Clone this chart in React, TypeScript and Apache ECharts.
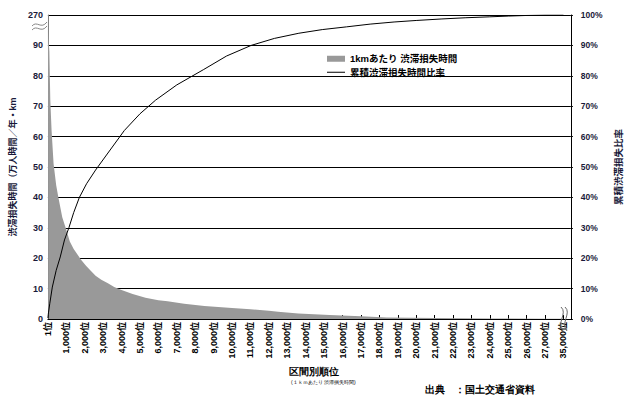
import React, { useEffect, useRef } from 'react';
import * as echarts from 'echarts';

// 1km あたり渋滞損失時間（万人時間／年・km） by section rank
const lossRanks = [1, 5, 15, 30, 50, 80, 130, 200, 310, 450, 570, 780, 1040, 1190, 1400, 1550, 1800, 2070, 2300, 2590, 2900, 3260, 3600, 4000, 4600, 5300, 6000, 6500, 7400, 8500, 10000, 11000, 12000, 12500, 13600, 15300, 17000, 18400, 21000, 24000, 27000, 35000];
const lossValues = [270, 230, 180, 130, 100, 88, 72, 62, 51, 44, 40, 33.5, 28.5, 25.5, 23, 21.7, 19.5, 17.5, 16, 14.2, 12.9, 11.8, 10.5, 9.5, 8.2, 7.0, 6.2, 5.8, 5.0, 4.3, 3.6, 3.2, 2.7, 2.4, 1.8, 1.3, 0.9, 0.5, 0.3, 0.2, 0.1, 0.05];

// 累積渋滞損失時間比率 (%)
const cumRanks = [1, 30, 100, 240, 450, 670, 900, 1140, 1400, 1710, 2100, 2590, 3260, 4150, 5000, 5850, 7000, 8440, 9700, 11040, 12300, 13630, 14900, 16220, 17500, 18800, 20000, 21400, 22700, 24000, 25000, 26000, 27000, 35000];
const cumValues = [0.3, 2, 5, 10.5, 16, 20.4, 26, 30, 35, 40, 44.5, 49, 54.6, 62, 67.5, 72, 77, 82, 86.5, 90, 92.3, 94, 95.2, 96.1, 97, 97.7, 98.2, 98.7, 99.1, 99.4, 99.65, 99.85, 100, 100];

const xTickLabels = ['1位', '1,000位', '2,000位', '3,000位', '4,000位', '5,000位', '6,000位', '7,000位', '8,000位', '9,000位', '10,000位', '11,000位', '12,000位', '13,000位', '14,000位', '15,000位', '16,000位', '17,000位', '18,000位', '19,000位', '20,000位', '21,000位', '22,000位', '23,000位', '24,000位', '25,000位', '26,000位', '27,000位', '35,000位'];
const yLeftLabels = ['0', '10', '20', '30', '40', '50', '60', '70', '80', '90', '270'];
const yRightLabels = ['0%', '10%', '20%', '30%', '40%', '50%', '60%', '70%', '80%', '90%', '100%'];

const LOSS_NAME = '1kmあたり 渋滞損失時間';
const CUM_NAME = '累積渋滞損失時間比率';

// broken axes: x compresses 27,000..35,000 into one step, y compresses 90..270 into one step
const dispX = (r: number) => (r <= 27000 ? r : 27000 + (r - 27000) / 8);
const dispY = (v: number) => (v <= 90 ? v : 90 + (v - 90) / 18);

const FONT = 'Arial, "Liberation Sans", "Noto Sans CJK JP", sans-serif';
const LINE_ICON = 'path://M0,0 L0.01,0 L0,0.01 Z M0,2.4 L18,2.4 L18,3.4 L0,3.4 Z M0,6 L0.01,6 L0,5.99 Z';

export default function App() {
  const ref = useRef<HTMLDivElement>(null);
  useEffect(() => {
    if (!ref.current) return;
    const chart = echarts.init(ref.current, undefined, { renderer: 'svg' });
    const lossData = lossRanks.map((r, i) => [dispX(r) - 1, dispY(lossValues[i])]);
    const cumData = cumRanks.map((r, i) => [dispX(r) - 1, cumValues[i]]);
    chart.setOption({
      animation: false,
      textStyle: { fontFamily: FONT },
      grid: { left: 37, right: 46, top: 15, bottom: 78, containLabel: false },
      legend: {
        orient: 'vertical',
        left: 322,
        top: 49,
        itemWidth: 18,
        itemHeight: 6,
        itemGap: 4,
        symbolKeepAspect: false,
        textStyle: { fontSize: 9.5, fontWeight: 'bold', color: '#000', fontFamily: FONT },
        data: [
          { name: LOSS_NAME, icon: 'rect' },
          { name: CUM_NAME, icon: LINE_ICON, itemStyle: { color: '#000' } },
        ],
      },
      xAxis: {
        type: 'value',
        min: 0,
        max: 28400,
        interval: 1000,
        axisLine: { show: true, lineStyle: { color: '#000', width: 1 } },
        axisTick: { show: true, inside: true, length: 4, lineStyle: { color: '#000' } },
        splitLine: { show: false },
        axisLabel: {
          rotate: 90,
          margin: 3,
          fontSize: 9,
          fontWeight: 'bold',
          color: '#000',
          fontFamily: FONT,
          showMaxLabel: false,
          formatter: (v: number) => {
            const i = Math.round(v / 1000);
            return Math.abs(v - i * 1000) < 1 && i < xTickLabels.length ? xTickLabels[i] : '';
          },
        },
      },
      yAxis: [
        {
          type: 'value',
          min: 0,
          max: 100,
          interval: 10,
          name: '渋滞損失時間（万人時間／年・km',
          nameLocation: 'middle',
          nameRotate: 90,
          nameGap: 24,
          nameTextStyle: { fontSize: 9, fontWeight: 'bold', color: '#1a1a3a', fontFamily: FONT },
          axisLine: { show: true, lineStyle: { color: '#808080', width: 1 } },
          axisTick: { show: false },
          splitLine: { show: true, lineStyle: { color: '#000', width: 1 } },
          axisLabel: {
            margin: 5,
            fontSize: 9,
            fontWeight: 'bold',
            color: '#1a1a3a',
            fontFamily: FONT,
            formatter: (v: number) => yLeftLabels[Math.round(v / 10)] ?? '',
          },
        },
        {
          type: 'value',
          min: 0,
          max: 100,
          interval: 10,
          position: 'right',
          name: '累積渋滞損失比率',
          nameLocation: 'middle',
          nameRotate: 90,
          nameGap: 29,
          nameTextStyle: { fontSize: 9.5, fontWeight: 'bold', color: '#1a1a3a', fontFamily: FONT },
          axisLine: { show: true, lineStyle: { color: '#000', width: 1 } },
          axisTick: { show: true, length: 2, lineStyle: { color: '#000' } },
          splitLine: { show: false },
          axisLabel: {
            margin: 10,
            fontSize: 8.5,
            fontWeight: 'bold',
            color: '#1a1a3a',
            fontFamily: FONT,
            formatter: (v: number) => yRightLabels[Math.round(v / 10)] ?? '',
          },
        },
      ],
      series: [
        {
          name: LOSS_NAME,
          type: 'line',
          yAxisIndex: 0,
          data: lossData,
          symbol: 'none',
          smooth: false,
          color: '#999999',
          lineStyle: { width: 0, color: '#999999' },
          areaStyle: { color: '#999999', opacity: 1 },
          itemStyle: { color: '#999999' },
          z: 1,
        },
        {
          name: CUM_NAME,
          type: 'line',
          yAxisIndex: 1,
          data: cumData,
          symbol: 'none',
          showSymbol: false,
          smooth: false,
          color: '#000',
          lineStyle: { width: 1, color: '#000' },
          z: 3,
        },
      ],
      graphic: [
        {
          type: 'bezierCurve',
          shape: { x1: 32, y1: 26, cpx1: 37, cpy1: 20, cpx2: 41, cpy2: 30, x2: 47, y2: 22 },
          style: { stroke: '#888', lineWidth: 1, fill: 'none' },
          z: 10,
        },
        {
          type: 'bezierCurve',
          shape: { x1: 32, y1: 30, cpx1: 37, cpy1: 24, cpx2: 41, cpy2: 34, x2: 47, y2: 26 },
          style: { stroke: '#888', lineWidth: 1, fill: 'none' },
          z: 10,
        },
        {
          type: 'bezierCurve',
          shape: { x1: 561, y1: 307, cpx1: 568, cpy1: 313, cpx2: 556, cpy2: 323, x2: 563, y2: 331 },
          style: { stroke: '#666', lineWidth: 1, fill: 'none' },
          z: 10,
        },
        {
          type: 'bezierCurve',
          shape: { x1: 565, y1: 307, cpx1: 572, cpy1: 313, cpx2: 560, cpy2: 323, x2: 567, y2: 331 },
          style: { stroke: '#666', lineWidth: 1, fill: 'none' },
          z: 10,
        },
        {
          type: 'text',
          left: 289,
          top: 366,
          style: { text: '区間別順位', fontSize: 9.5, fontWeight: 'bold', fill: '#000', font: `bold 9.5px ${FONT}` },
        },
        {
          type: 'text',
          left: 291,
          top: 379,
          style: { text: '(１ｋｍあたり 渋滞損失時間)', fontSize: 5, fill: '#000', font: `5px ${FONT}` },
        },
        {
          type: 'text',
          left: 425,
          top: 384,
          style: { text: '出典　：国土交通省資料', fontSize: 10, fontWeight: 'bold', fill: '#000', font: `bold 10px ${FONT}` },
        },
      ],
    });
    return () => chart.dispose();
  }, []);
  return <div ref={ref} style={{ width: 631, height: 397, position: 'absolute', left: 0, top: 0, background: '#fff' }} />;
}
